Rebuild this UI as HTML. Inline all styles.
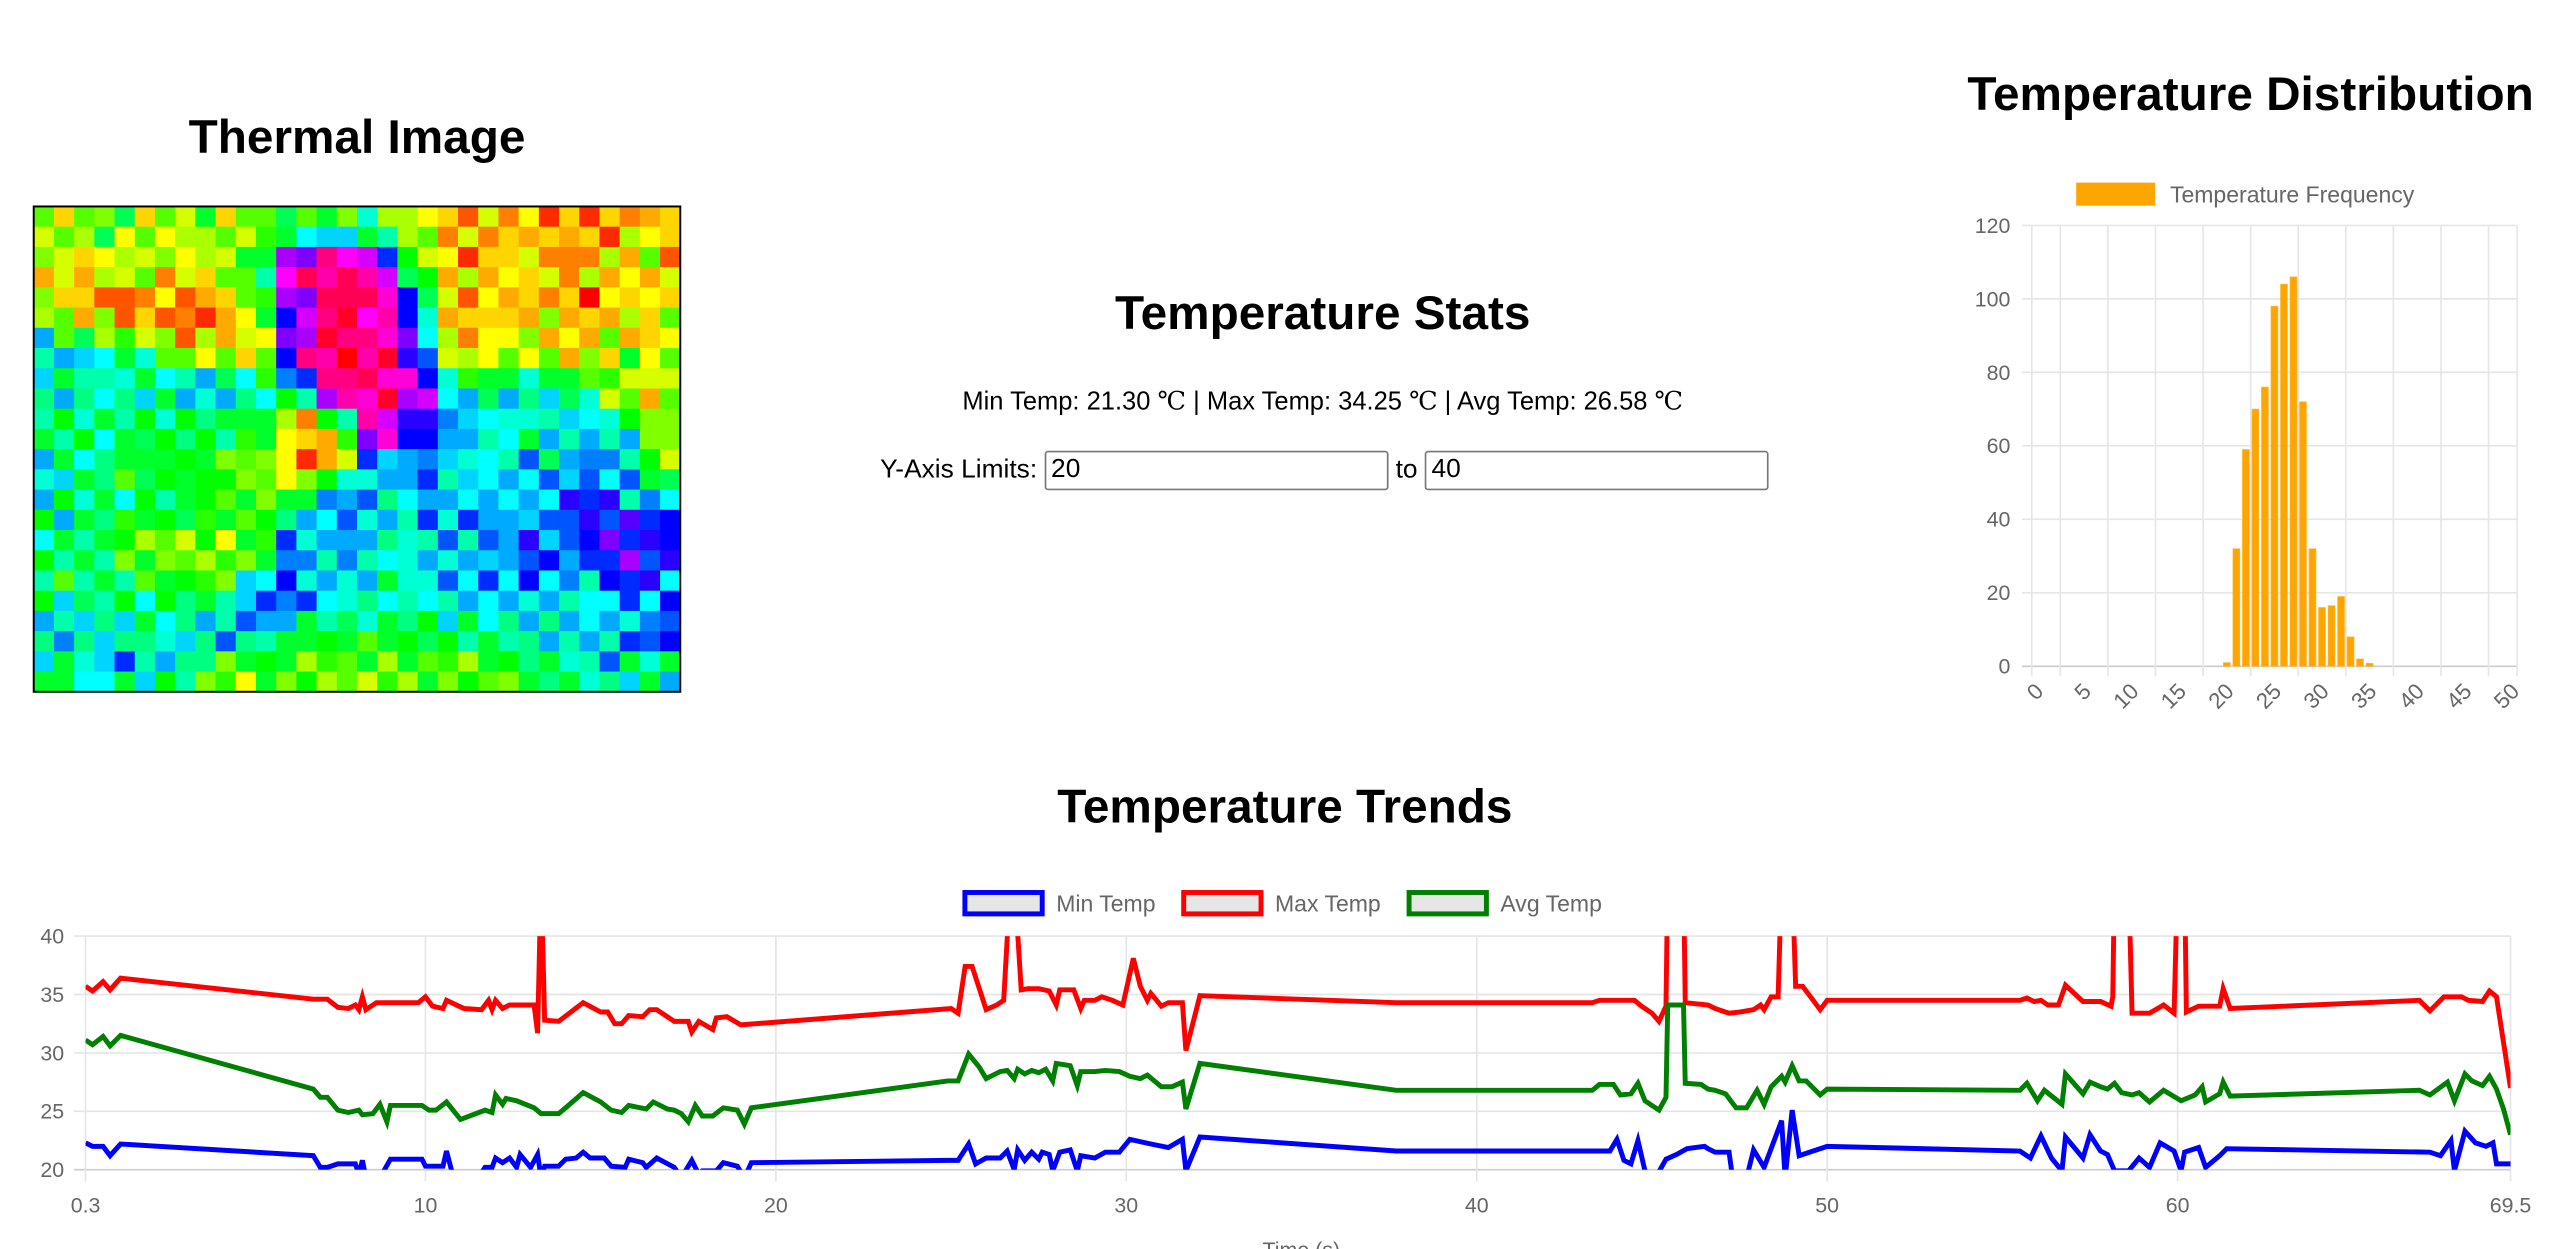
<!DOCTYPE html>
<html><head><meta charset="utf-8"><style>
html,body{margin:0;padding:0;background:#fff;overflow:hidden;width:2550px;height:1248px}
#root{position:absolute;left:0;top:0;width:1550px;height:758.6px;transform:scale(1.645161);transform-origin:0 0;font-family:"Liberation Sans",Arial,sans-serif}
.h{position:absolute;margin:0;font-size:29px;font-weight:bold;color:#000;white-space:nowrap;transform:translateX(-50%)}
.stats{position:absolute;left:804px;top:235px;transform:translateX(-50%);font-size:15.5px;white-space:nowrap}
.c{font-family:"Liberation Serif","DejaVu Serif",serif}
.lim{position:absolute;left:535px;top:274px;font-size:16px;white-space:nowrap}
.lim input{width:201px;height:20px;border:1px solid #767676;border-radius:2px;font:16px "Liberation Sans",Arial,sans-serif;padding:1px 3px;vertical-align:middle;margin:0}
svg{position:absolute;left:0;top:0;overflow:visible}
</style></head><body>
<div id="root">
<div class="h" style="left:217px;top:68px">Thermal Image</div>
<div class="h" style="left:804px;top:175px">Temperature Stats</div>
<div class="h" style="left:1368px;top:42px">Temperature Distribution</div>
<div class="h" style="left:781px;top:475px">Temperature Trends</div>
<div class="stats">Min Temp: 21.30 <span class="c">℃</span> | Max Temp: 34.25 <span class="c">℃</span> | Avg Temp: 26.58 <span class="c">℃</span></div>
<div class="lim">Y-Axis Limits: <input value="20"> to <input value="40"></div>
<svg id="heat" width="1550" height="759"></svg>
<svg id="hist" width="1550" height="759"></svg>
<svg id="trend" width="1550" height="759"></svg>
</div>
<script>
const NS="http://www.w3.org/2000/svg";
function mk(p,t,a){const e=document.createElementNS(NS,t);for(const k in a)e.setAttribute(k,a[k]);p.appendChild(e);return e;}

// ---------- Heatmap data (hue/10 in base 36 per cell) ----------
const heatRows=[
"a5a9e5a7d5aaead9h886527361515345","7a8e6a688a7bdijjdg8a373545451865",
"9756879687ddsrxutnc76155733384a2","47487a375aaguywywtec484657384647",
"9552236245absryyyvoe726453506565","8a492523146dotxzuwoh45554945485a",
"kae8b7928476rszxxvri83669464a456","gkjidhaa6a5aoxw0wzpm786a6a495d6a",
"jdgghdigkeiblnxxyvvohbddhddab777","fkfifjdkhkficgswvzstikekfjeh7a4a",
"gchdgchcfddd83cgwtppljihhgjihc99","dgcidecfcgbd654brvookkgidkgkgk99",
"kdifdddcd9a96147njkljhigmekllgc7","hjdfaecdcc9a69chhkkngjikimjmimde",
"kchdicgdcad9ddlkmfikkikikipnpgli","ckdfbdcebdacfkimhkgnhnkkjmmpmqno",
"idgdc8a7c6dbnhkkkfhgmgmkpjmornpo","cgdg9d9a8b9dllglgihkhkjkmoknnsmp",
"gagdgadcb9jiohkhkdhhminioilgonpi","cjegcicfdgjnlnihfigigkikhkgiinio",
"kgjfjdifkgmkkdgehdfcjdifkfkikhlm","flfjffhjfmfgddcdadcecgdgfkgkgnmo",
"jdhjngkff9dcd8bad8dab8dcfdhgmdhd","ddiidjcg9b6d9c8a7b8d9ca9dfdhfjdk"];
(function(){
 const s=document.getElementById('heat');
 const x0=20.5,y0=125.5,W=393,H=295,cw=W/32,ch=H/24;
 heatRows.forEach((row,r)=>{for(let c=0;c<32;c++){
  const hue=parseInt(row[c],36)*10;
  const e=mk(s,'rect',{x:x0+c*cw,y:y0+r*ch,width:cw+0.3,height:ch+0.3,fill:'hsl('+hue+',100%,50%)'});
  
  
 }});
 const b=mk(s,'rect',{x:x0,y:y0,width:W,height:H,fill:'none',stroke:'#000','stroke-width':1.2});
 
 
})();

// ---------- Histogram ----------
const histLabels=[];for(let i=0;i<=50;i++)histLabels.push(String(i));
const histCounts={20:1,21:32,22:59,23:70,24:76,25:98,26:104,27:106,28:72,29:32,30:16,31:16.5,32:19,33:8,34:2,35:0.8};
const histYTicks=[0,20,40,60,80,100,120];
(function(){
 const s=document.getElementById('hist');
 const L=1235,R=1530,T=137,B=405,n=histLabels.length,cw=(R-L)/n;
 const y=v=>B-(v/120)*(B-T);
 const cx=i=>L+(i+0.5)*cw;
 histYTicks.forEach(v=>{
  const g=mk(s,'line',{x1:L-6,x2:R,y1:y(v),y2:y(v),stroke:v===0?'#ccc':'#e6e6e6','stroke-width':1});
  
  
  const t=mk(s,'text',{x:L-13,y:y(v)+4.5,'text-anchor':'end','font-size':13,fill:'#666'});t.textContent=v;
  
  
 });
 const edges=[0];for(let i=3;i<n;i+=5)edges.push(i);edges.push(n);
 edges.forEach(i=>{
  const g=mk(s,'line',{x1:L+i*cw,x2:L+i*cw,y1:T,y2:B+6,stroke:'#e6e6e6','stroke-width':1});
  
  
 });
 histLabels.forEach((lab,i)=>{
  if(i%5)return;
  const t=mk(s,'text',{x:0,y:0,'text-anchor':'end','font-size':13.5,fill:'#666',transform:'translate('+(cx(i)+5)+','+(B+16)+') rotate(-45)'});t.textContent=lab;
  
  
 });
 histLabels.forEach((lab,i)=>{
  const c=histCounts[i];if(!c)return;
  const e=mk(s,'rect',{x:cx(i)-2.1,y:y(c),width:4.2,height:B-y(c),fill:'#ffa500',stroke:'#ffb733','stroke-width':0.4});
  
  
 });
 const lb=mk(s,'rect',{x:1262,y:111,width:48,height:14,fill:'#ffa500'});
 
 
 const lt=mk(s,'text',{x:1319,y:123,'font-size':14,fill:'#666'});lt.textContent='Temperature Frequency';
 
 
})();

// ---------- Trends ----------
const maxT=[0.3,0.5,0.8,1.0,1.3,6.8,7.2,7.5,7.8,8.0,8.1,8.2,8.3,8.6,9.8,10.0,10.2,10.5,10.6,11.1,11.6,11.8,11.9,12.0,12.2,12.4,13.1,13.2,13.3,13.4,13.8,14.5,15.0,15.2,15.4,15.6,15.8,16.2,16.4,16.6,17.1,17.5,17.6,17.8,18.2,18.3,18.6,19.0,25.0,25.2,25.4,25.6,26.0,26.3,26.5,26.7,26.8,27.0,27.2,27.5,27.8,28.0,28.1,28.5,28.7,28.8,29.1,29.3,29.6,29.9,30.2,30.4,30.6,30.7,31.0,31.2,31.6,31.7,32.1,37.7,43.3,43.5,44.5,44.7,45.0,45.2,45.4,45.45,45.9,45.95,46.6,46.8,47.2,47.5,47.9,48.1,48.2,48.4,48.6,48.7,49.0,49.1,49.3,49.8,50.0,55.5,55.7,55.9,56.1,56.3,56.6,56.8,57.3,57.8,58.1,58.15,58.2,58.6,58.7,59.2,59.6,59.9,60.0,60.2,60.25,60.6,61.2,61.3,61.5,66.9,67.2,67.6,68.1,68.3,68.7,68.9,69.1,69.5];
const maxV=[35.7,35.3,36.1,35.4,36.4,34.6,34.6,33.9,33.8,34.1,33.7,34.8,33.7,34.3,34.3,34.8,34.0,33.8,34.5,33.8,33.7,34.5,33.7,34.5,33.8,34.1,34.1,31.7,45,32.8,32.7,34.3,33.5,33.5,32.5,32.5,33.2,33.1,33.7,33.7,32.7,32.7,31.8,32.7,32.0,33.0,33.1,32.4,33.8,33.4,37.4,37.4,33.7,34.1,34.5,45,45,35.4,35.5,35.5,35.3,34.1,35.4,35.4,33.8,34.5,34.5,34.8,34.5,34.1,38.1,35.7,34.5,35.1,34.0,34.3,34.3,30.2,34.9,34.3,34.3,34.5,34.5,34.0,33.4,32.7,34.0,45,45,34.3,34.1,33.8,33.4,33.5,33.7,34.1,33.7,34.8,34.8,45,45,35.7,35.7,33.7,34.5,34.5,34.7,34.4,34.5,34.1,34.1,35.8,34.4,34.4,34.0,34.8,45,45,33.4,33.4,34.1,33.4,45,45,33.5,34.0,34.0,35.5,33.8,34.5,33.6,34.8,34.8,34.5,34.4,35.3,34.8,27.0];
const avgT=[0.3,0.5,0.8,1.0,1.3,6.8,7.0,7.2,7.5,7.8,8.1,8.2,8.5,8.7,8.9,9.0,9.9,10.1,10.3,10.6,11.0,11.7,11.9,12.0,12.2,12.3,12.6,13.1,13.3,13.8,14.0,14.5,15.0,15.3,15.6,15.8,16.3,16.5,16.9,17.1,17.3,17.5,17.7,17.9,18.2,18.5,18.9,19.1,19.3,24.9,25.2,25.5,25.8,26.0,26.4,26.6,26.8,26.9,27.1,27.3,27.5,27.7,27.9,28.0,28.4,28.6,28.7,29.1,29.4,29.8,30.1,30.4,30.6,31.0,31.3,31.6,31.7,32.1,37.7,43.3,43.5,43.9,44.1,44.4,44.6,44.8,45.2,45.4,45.45,45.9,45.95,46.4,46.6,46.8,47.1,47.4,47.7,48.0,48.2,48.4,48.7,48.8,49.0,49.2,49.4,49.8,50.0,55.5,55.7,56.0,56.2,56.7,56.8,57.3,57.5,57.8,58.0,58.2,58.4,58.7,58.9,59.2,59.6,60.1,60.5,60.7,60.8,61.2,61.3,61.5,66.9,67.2,67.7,67.9,68.2,68.4,68.7,68.9,69.1,69.3,69.5];
const avgV=[31.1,30.7,31.4,30.6,31.5,26.9,26.2,26.2,25.1,24.9,25.1,24.7,24.8,25.6,24.1,25.5,25.5,25.1,25.1,25.8,24.3,25.1,24.9,26.4,25.6,26.1,25.9,25.3,24.8,24.8,25.3,26.6,25.8,25.1,24.9,25.5,25.2,25.8,25.2,25.1,24.8,24.1,25.5,24.6,24.6,25.3,25.1,23.9,25.3,27.6,27.6,29.9,28.8,27.8,28.4,28.5,27.8,28.6,28.2,28.5,28.3,28.6,27.6,29.1,28.9,27.2,28.4,28.4,28.5,28.4,28.0,27.8,28.1,27.1,27.1,27.5,25.2,29.1,26.8,26.8,27.3,27.3,26.4,26.5,27.4,25.9,25.1,26.2,34.1,34.1,27.4,27.3,26.9,26.8,26.5,25.3,25.3,26.8,25.6,27.1,28.0,27.5,28.9,27.6,27.6,26.4,26.9,26.8,27.4,25.9,26.8,25.6,28.2,26.5,27.5,27.1,26.9,27.4,26.6,26.4,26.6,25.8,26.8,25.9,26.4,27.1,25.8,26.5,27.5,26.3,26.8,26.4,27.5,25.9,28.2,27.6,27.2,28.0,26.9,25.2,23.0];
const minT=[0.3,0.5,0.8,1.0,1.3,6.8,7.0,7.2,7.5,8.0,8.1,8.2,8.3,8.7,9.0,9.9,10.0,10.5,10.6,10.8,11.5,11.7,11.9,12.0,12.2,12.4,12.6,12.7,13.0,13.2,13.3,13.4,13.8,14.0,14.3,14.5,14.7,15.1,15.3,15.7,15.8,16.2,16.3,16.6,17.1,17.3,17.6,17.8,17.9,18.3,18.5,18.9,19.1,19.3,24.9,25.2,25.5,25.7,26.0,26.4,26.6,26.8,26.9,27.1,27.3,27.5,27.6,27.8,27.9,28.1,28.4,28.6,28.7,29.1,29.4,29.8,30.1,30.7,31.2,31.6,31.7,32.1,37.7,43.8,44.0,44.2,44.4,44.6,44.8,45.1,45.4,45.7,46.0,46.5,46.6,46.8,47.2,47.3,47.7,47.9,48.2,48.7,48.8,49.0,49.2,49.6,50.0,55.5,55.8,56.1,56.4,56.7,56.8,57.3,57.5,57.8,58.0,58.2,58.6,58.9,59.2,59.5,59.9,60.1,60.2,60.6,60.8,61.2,61.4,67.2,67.5,67.8,67.9,68.2,68.5,68.8,69.0,69.1,69.5];
const minV=[22.3,22.0,22.0,21.2,22.2,21.2,20.2,20.2,20.5,20.5,19.6,20.8,19.3,19.3,20.9,20.9,20.3,20.3,21.6,19.3,19.3,20.2,20.2,21.0,20.6,21.0,20.2,21.3,20.2,21.3,19.3,20.3,20.3,20.9,21.0,21.5,21.0,21.0,20.3,20.2,20.9,20.6,20.2,21.0,20.2,19.3,20.8,19.6,19.9,19.9,20.6,20.3,19.3,20.6,20.8,20.8,22.2,20.5,21.0,21.0,21.6,20.0,21.7,20.8,21.5,20.9,21.5,21.3,19.9,21.5,21.7,19.9,21.2,21.0,21.5,21.5,22.6,22.2,21.9,22.6,19.9,22.8,21.6,21.6,22.6,20.8,20.5,22.5,19.9,19.3,20.9,21.3,21.8,22.0,21.8,21.5,21.5,19.3,19.3,21.7,20.2,24.2,19.3,25.1,21.2,21.6,22.0,21.6,21.0,22.9,21.0,19.9,22.8,21.0,23.0,21.6,21.3,19.9,19.9,21.0,20.2,22.3,21.6,19.9,21.5,21.9,20.2,21.2,21.8,21.5,21.2,22.5,19.9,23.3,22.3,22.0,22.3,20.5,20.5];
const trendYTicks=[20,25,30,35,40];
const trendXTicks=[0.3,10,20,30,40,50,60,69.5];
(function(){
 const s=document.getElementById('trend');
 const L=52,R=1526,T=569,B=711,tmin=0.3,tmax=69.5,vmin=20,vmax=40;
 const x=t=>L+(t-tmin)/(tmax-tmin)*(R-L);
 const y=v=>B-(v-vmin)/(vmax-vmin)*(B-T);
 trendYTicks.forEach(v=>{
  const g=mk(s,'line',{x1:L-7,x2:R,y1:y(v),y2:y(v),stroke:v===20?'#ccc':'#e5e5e5','stroke-width':1});
  
  
  const t=mk(s,'text',{x:L-13,y:y(v)+4.5,'text-anchor':'end','font-size':13,fill:'#666'});t.textContent=v;
  
  
 });
 trendXTicks.forEach(v=>{
  const g=mk(s,'line',{x1:x(v),x2:x(v),y1:T,y2:B+7,stroke:'#e5e5e5','stroke-width':1});
  
  
  const t=mk(s,'text',{x:x(v),y:B+26,'text-anchor':'middle','font-size':13,fill:'#666'});t.textContent=v;
  
  
 });
 const xt=mk(s,'text',{x:(L+R)/2+2,y:764,'text-anchor':'middle','font-size':13,fill:'#666'});xt.textContent='Time (s)';
 
 
 const defs=mk(s,'defs',{});const cp=mk(defs,'clipPath',{id:'tclip'});mk(cp,'rect',{x:L,y:T,width:R-L,height:B-T});
 const series=[[minT,minV,'#0000ff','min-temp-line'],[maxT,maxV,'#ff0000','max-temp-line'],[avgT,avgV,'#008000','avg-temp-line']];
 series.forEach(([ts,vs,col,nm])=>{
  const d=ts.map((t,i)=>(i?'L':'M')+x(t).toFixed(2)+' '+y(vs[i]).toFixed(2)).join(' ');
  const p=mk(s,'path',{d:d,fill:'none',stroke:col,'stroke-width':3,'stroke-linejoin':'miter','clip-path':'url(#tclip)'});
  
  
 });
 const leg=[[585,642,'#0000ff','Min Temp'],[718,775,'#ff0000','Max Temp'],[855,912,'#008000','Avg Temp']];
 leg.forEach(([bx,tx,col,lab])=>{
  const r=mk(s,'rect',{x:bx+1.5,y:542.5,width:47,height:13,fill:'#e6e6e6',stroke:col,'stroke-width':3});
  
  
  const t=mk(s,'text',{x:tx,y:554,'font-size':14,fill:'#666'});t.textContent=lab;
  
  
 });
})();
</script>
</body></html>
